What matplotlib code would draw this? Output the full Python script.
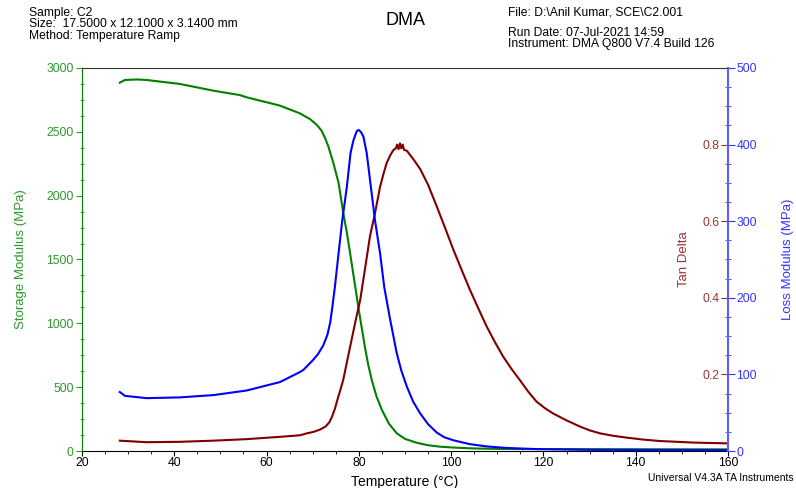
import matplotlib
matplotlib.use("Agg")
import matplotlib.pyplot as plt
from matplotlib.ticker import MultipleLocator

plt.rcParams["font.family"] = ["Liberation Sans", "DejaVu Sans"]

# Storage modulus (MPa) vs temperature (C)
storage_temp = [28.2, 29.3, 32.0, 34.0, 41.2, 48.5, 54.2, 55.7, 61.5, 62.9, 67.2,
                69.4, 70.1, 71.0, 71.9, 72.7, 73.4, 74.5, 75.6, 76.6, 77.4, 78.1,
                79.2, 80.1, 81.3, 82.0, 82.8, 83.8, 85.0, 86.5, 88.2, 90.0, 92.5,
                95.0, 97.6, 100.5, 105, 111.3, 120, 140, 160]
storage_mod = [2885, 2906, 2910, 2906, 2875, 2822, 2788, 2770, 2718, 2705, 2645,
               2600, 2579, 2550, 2510, 2450, 2384, 2253, 2100, 1870, 1710, 1550,
               1290, 1079, 817, 680, 556, 430, 321, 215, 139, 95, 65,
               45, 34, 27, 20, 16, 15, 14, 13]

# Loss modulus (MPa)
loss_temp = [28.2, 29.3, 34.0, 41.2, 48.5, 55.7, 62.9, 67.2, 68.0, 70.1, 71.2, 72.3,
             73.2, 73.8, 74.3, 74.8, 75.6, 76.4, 77.4, 78.2, 78.8, 79.2, 79.6, 80.0,
             80.5, 81.0, 81.7, 82.6, 83.5, 84.6, 85.5, 86.8, 88.2, 89.2, 90.4, 91.8,
             93.3, 95.0, 96.9, 98.5, 100.5, 104, 107.7, 112, 118.5, 130, 160]
loss_mod = [77, 72, 69, 70, 73, 79, 90, 103, 106, 119, 127, 138,
            152, 168, 190, 214, 258, 301, 345, 389, 405, 412, 418, 419,
            416, 410, 389, 345, 301, 258, 214, 171, 128, 105, 84, 64,
            49, 35, 24, 18, 14, 9, 6, 4, 2.5, 1.5, 1]

# Tan delta
tan_temp = [28.2, 34.0, 41.2, 48.5, 55.7, 62.9, 67.2, 68.7, 70.2, 71.6, 72.8, 73.6,
            74.2, 74.8, 75.5, 76.0, 76.6, 78.1, 79.2, 80.3, 81.3, 82.4, 83.5, 84.6,
            85.3, 86.0, 86.8, 87.5, 88.0, 88.3, 88.6, 88.9, 89.2, 89.5, 89.8, 90.4,
            91.8, 93.3, 95.0, 96.9, 98.7, 100.5, 102.3, 104.1, 105.9, 107.7, 109.5,
            111.3, 113.1, 114.9, 116.7, 118.5, 120.3, 122.1, 125.0, 127.9, 130.0,
            132.3, 135.0, 138.0, 141.5, 145.3, 149.0, 152.5, 156.0, 159.7]
tan_delta = [0.027, 0.023, 0.024, 0.027, 0.031, 0.037, 0.041, 0.046, 0.050, 0.056, 0.064, 0.075,
             0.090, 0.110, 0.140, 0.160, 0.185, 0.272, 0.335, 0.395, 0.473, 0.560, 0.621, 0.690,
             0.722, 0.751, 0.772, 0.786, 0.790, 0.800, 0.788, 0.803, 0.790, 0.800, 0.786, 0.784,
             0.762, 0.736, 0.695, 0.638, 0.582, 0.525, 0.472, 0.420, 0.372, 0.325, 0.284,
             0.246, 0.214, 0.185, 0.155, 0.129, 0.112, 0.098, 0.080, 0.064, 0.054,
             0.046, 0.040, 0.035, 0.030, 0.026, 0.024, 0.022, 0.021, 0.020]

GREEN = "#008000"
GREEN_TXT = "#2a9a2a"
BLUE = "#0000ff"
BLUE_TXT = "#3333ff"
RED = "#800000"
RED_TXT = "#993333"
FS = 8.7

fig = plt.figure(figsize=(7.96, 4.88), dpi=100)
ax = fig.add_axes([0.103, 0.0758, 0.8116, 0.7849])
ax2 = ax.twinx()
ax3 = ax.twinx()

ax.plot(storage_temp, storage_mod, color=GREEN, lw=1.5)
ax2.plot(tan_temp, tan_delta, color=RED, lw=1.5)
ax3.plot(loss_temp, loss_mod, color=BLUE, lw=1.5)

ax.set_xlim(20, 160)
ax.set_ylim(0, 3000)
ax2.set_ylim(0, 1.0)
ax3.set_ylim(0, 500)

# x axis
ax.xaxis.set_major_locator(MultipleLocator(20))
ax.xaxis.set_minor_locator(MultipleLocator(5))
ax.tick_params(axis="x", which="major", direction="out", length=3.5, labelsize=FS, pad=1)
ax.tick_params(axis="x", which="minor", direction="out", length=2.5)
ax.set_xlabel("Temperature (\u00b0C)", fontsize=10, labelpad=4)

# left axis: storage modulus
ax.yaxis.set_major_locator(MultipleLocator(500))
ax.yaxis.set_minor_locator(MultipleLocator(125))
ax.tick_params(axis="y", which="major", direction="out", length=4, labelsize=FS,
               colors=GREEN_TXT, pad=2)
ax.tick_params(axis="y", which="minor", direction="inout", length=3, colors=GREEN_TXT)
ax.set_ylabel("Storage Modulus (MPa)", fontsize=9.5, color=GREEN_TXT, labelpad=14)
ax.spines["left"].set_color(GREEN)
ax.spines["top"].set_color("#333333")
ax.spines["right"].set_visible(False)

# tan delta: labels inside the right spine
ax2.spines["left"].set_position(("axes", 1.0))
ax2.yaxis.set_ticks_position("left")
ax2.yaxis.set_label_position("left")
for s in ["left", "right", "top", "bottom"]:
    ax2.spines[s].set_visible(False)
ax2.set_yticks([0.2, 0.4, 0.6, 0.8])
ax2.tick_params(axis="y", which="major", direction="out", length=5, labelsize=FS,
                colors=RED_TXT, pad=1)
ax2.set_ylabel("Tan Delta", fontsize=9.5, color=RED_TXT, labelpad=9)

# loss modulus: outer right axis
ax3.yaxis.set_major_locator(MultipleLocator(100))
ax3.yaxis.set_minor_locator(MultipleLocator(25))
ax3.tick_params(axis="y", which="major", direction="out", length=5, labelsize=FS,
                colors=BLUE_TXT, pad=1)
ax3.tick_params(axis="y", which="minor", direction="inout", length=4, colors=BLUE_TXT)
ax3.spines["right"].set_color("#5c5cff")
ax3.spines["right"].set_linewidth(1.5)
for s in ["left", "top", "bottom"]:
    ax3.spines[s].set_visible(False)
ax3.set_ylabel("Loss Modulus (MPa)", fontsize=9.5, color=BLUE_TXT, labelpad=18)

# header text
fig.text(0.036, 0.974, "Sample: C2", fontsize=FS, va="center")
fig.text(0.036, 0.950, "Size:  17.5000 x 12.1000 x 3.1400 mm", fontsize=FS, va="center")
fig.text(0.036, 0.927, "Method: Temperature Ramp", fontsize=FS, va="center")
fig.text(0.509, 0.958, "DMA", fontsize=13, ha="center", va="center")
fig.text(0.638, 0.974, "File: D:\\Anil Kumar, SCE\\C2.001", fontsize=FS, va="center")
fig.text(0.638, 0.932, "Run Date: 07-Jul-2021 14:59", fontsize=FS, va="center")
fig.text(0.638, 0.909, "Instrument: DMA Q800 V7.4 Build 126", fontsize=FS, va="center")
fig.text(0.997, 0.020, "Universal V4.3A TA Instruments", fontsize=7.5, ha="right", va="center")

fig.savefig("out.png", dpi=100)
